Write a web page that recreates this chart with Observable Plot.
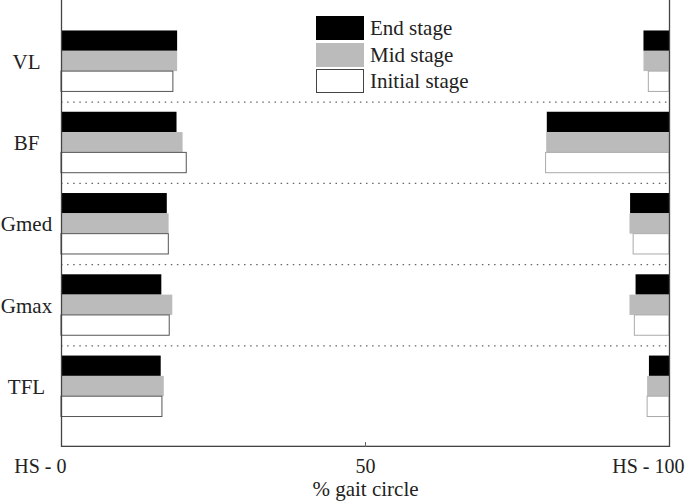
<!DOCTYPE html>
<html>
<head>
<meta charset="utf-8">
<script src="https://cdn.jsdelivr.net/npm/d3@7"></script>
<script src="https://cdn.jsdelivr.net/npm/@observablehq/plot@0.6"></script>
<style>
  html, body { margin: 0; padding: 0; background: #fff; }
  #wrap { position: relative; width: 685px; height: 503px; font-family: "Liberation Serif", "Times New Roman", serif; }
  #legend { position: absolute; left: 316px; top: 16px; }
  .li { position: relative; height: 26.7px; }
  .sw { position: absolute; left: 0; top: 0; width: 48px; height: 24px; box-sizing: border-box; }
  .lt { position: absolute; left: 54px; top: 0; font-size: 21px; line-height: 24px; color: #222; white-space: nowrap; }
</style>
</head>
<body>
<div id="wrap"></div>
<script>
const muscles = ["VL", "BF", "Gmed", "Gmax", "TFL"];
const stages = ["End stage", "Mid stage", "Initial stage"];
const stageColors = ["#000000", "#bbbbbb", "#ffffff"];
// left bars: from heel strike (0) to end of first activation
const leftEnd  = [19.1, 19.0, 17.4, 16.5, 16.4];
const leftMid  = [19.1, 20.0, 17.7, 18.3, 16.9];
const leftInit = [18.4, 20.6, 17.65, 17.8, 16.6];
// right bars: from onset of late activation to next heel strike (100)
const rightEnd  = [95.8, 79.9, 93.6, 94.5, 96.7];
const rightMid  = [95.8, 79.8, 93.5, 93.5, 96.4];
const rightInit = [96.6, 79.7, 94.1, 94.3, 96.4];
const xTicks = [0, 50, 100];
const xTickLabels = ["HS - 0", "50", "HS - 100"];
const xLabel = "% gait circle";

const leftVals = [leftEnd, leftMid, leftInit];
const rightVals = [rightEnd, rightMid, rightInit];

// build row keys: 3 rows per muscle, a spacer row between muscles
const rows = [];
const gaps = [];
muscles.forEach((m, i) => {
  stages.forEach(s => rows.push(m + "|" + s));
  if (i < muscles.length - 1) { rows.push("gap" + i); gaps.push("gap" + i); }
});

const bars = [];
muscles.forEach((m, i) => {
  stages.forEach((s, j) => {
    bars.push({muscle: m, stage: s, row: m + "|" + s, x1: 0, x2: leftVals[j][i], side: "L"});
    bars.push({muscle: m, stage: s, row: m + "|" + s, x1: rightVals[j][i], x2: 100, side: "R"});
  });
});
const filled = bars.filter(d => d.stage !== "Initial stage");
const initL = bars.filter(d => d.stage === "Initial stage" && d.side === "L");
const initR = bars.filter(d => d.stage === "Initial stage" && d.side === "R");

const chart = Plot.plot({
  width: 685,
  height: 503,
  marginLeft: 61,
  marginRight: 16,
  marginTop: 0,
  marginBottom: 56,
  style: {fontFamily: "'Liberation Serif', serif", fontSize: "21px", color: "#222", background: "#fff"},
  x: {domain: [0, 100], axis: null},
  y: {domain: rows, axis: null, paddingInner: 0, paddingOuter: 1.5, round: false},
  color: {domain: stages, range: stageColors},
  marks: [
    Plot.ruleY(gaps, {y: d => d, stroke: "#666", strokeWidth: 1.2, strokeDasharray: "1.5,4.6"}),
    Plot.barX(filled, {y: "row", x1: "x1", x2: "x2", fill: "stage", inset: 0}),
    Plot.barX(initL, {y: "row", x1: "x1", x2: "x2", fill: "#fff", stroke: "#555", strokeWidth: 1, inset: 0}),
    Plot.barX(initR, {y: "row", x1: "x1", x2: "x2", fill: "#fff", stroke: "#aaa", strokeWidth: 1, inset: 0}),
    Plot.ruleX([0, 100], {stroke: "#444", strokeWidth: 1.3}),
    Plot.rect([0], {x1: 0, x2: 100, insetTop: 445.7, fill: "#444"}),
    Plot.ruleX([50], {insetTop: 442, stroke: "#666"}),
    Plot.text(muscles, {y: d => d + "|Mid stage", text: d => d, frameAnchor: "left", dx: -35, dy: 0.5, textAnchor: "middle", fontSize: 21, fill: "#222"}),
    Plot.text([xTicks[1]], {x: d => d, text: () => xTickLabels[1], frameAnchor: "bottom", dy: 25, lineAnchor: "bottom", textAnchor: "middle", fontSize: 20, fill: "#222"}),
    Plot.text([xTicks[0]], {x: d => d, text: () => xTickLabels[0], frameAnchor: "bottom", dy: 25, lineAnchor: "bottom", textAnchor: "end", dx: 5, fontSize: 20, fill: "#222"}),
    Plot.text([xTicks[2]], {x: d => d, text: () => xTickLabels[2], frameAnchor: "bottom", dy: 25, lineAnchor: "bottom", textAnchor: "end", dx: 15, fontSize: 20, fill: "#222"}),
    Plot.text([xLabel], {text: d => d, frameAnchor: "bottom", dy: 48, lineAnchor: "bottom", textAnchor: "middle", fontSize: 21, fill: "#222"})
  ]
});

const wrap = document.getElementById("wrap");
wrap.appendChild(chart);

const legend = document.createElement("div");
legend.id = "legend";
stages.forEach((s, i) => {
  const li = document.createElement("div");
  li.className = "li";
  const sw = document.createElement("div");
  sw.className = "sw";
  sw.style.background = stageColors[i];
  sw.style.border = i === 2 ? "1px solid #444" : "none";
  const lt = document.createElement("div");
  lt.className = "lt";
  lt.textContent = s;
  li.appendChild(sw);
  li.appendChild(lt);
  legend.appendChild(li);
});
wrap.appendChild(legend);
</script>
</body>
</html>
